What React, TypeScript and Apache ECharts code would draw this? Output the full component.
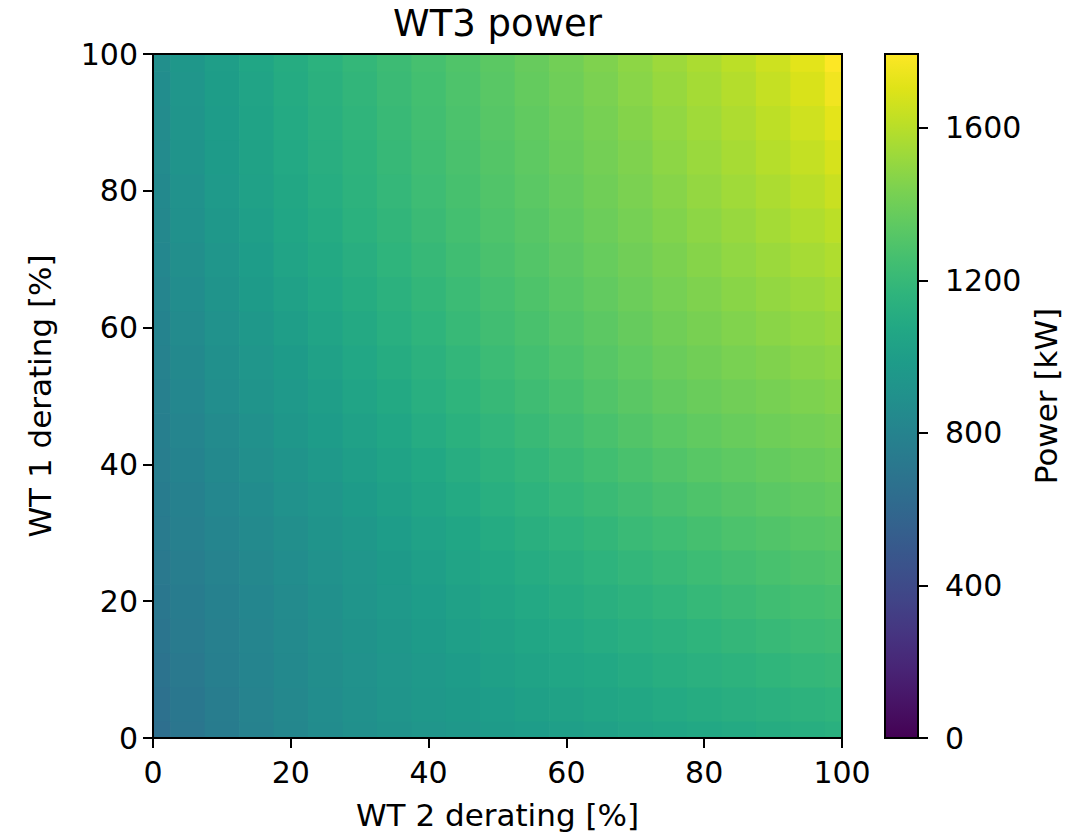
import React, { useEffect, useRef } from "react";
import * as echarts from "echarts";

// WT 2 derating [%] (x) and WT 1 derating [%] (y) sample positions
const wt2Derating = [0, 5, 10, 15, 20, 25, 30, 35, 40, 45, 50, 55, 60, 65, 70, 75, 80, 85, 90, 95, 100];
const wt1Derating = [0, 5, 10, 15, 20, 25, 30, 35, 40, 45, 50, 55, 60, 65, 70, 75, 80, 85, 90, 95, 100];

// WT3 power [kW]; one list per WT 2 derating value, each running over WT 1 derating 0 -> 100
const powerByWt2: number[][] = [
  [650, 665, 681, 696, 711, 725, 737, 748, 759, 769, 780, 791, 802, 814, 825, 835, 845, 854, 862, 871, 880],
  [700, 712, 725, 737, 749, 762, 775, 788, 801, 814, 827, 841, 856, 870, 884, 897, 908, 918, 927, 936, 945],
  [748, 758, 767, 776, 786, 798, 811, 826, 841, 857, 873, 889, 907, 924, 941, 955, 967, 977, 987, 996, 1005],
  [790, 798, 806, 814, 823, 834, 848, 864, 882, 900, 918, 936, 956, 975, 993, 1009, 1021, 1032, 1040, 1049, 1058],
  [830, 837, 844, 850, 859, 870, 885, 903, 922, 942, 962, 982, 1003, 1024, 1043, 1059, 1071, 1081, 1089, 1097, 1105],
  [865, 872, 878, 885, 893, 905, 921, 941, 962, 984, 1005, 1025, 1046, 1066, 1084, 1100, 1113, 1123, 1131, 1139, 1148],
  [893, 901, 909, 917, 927, 940, 958, 979, 1002, 1025, 1046, 1066, 1087, 1106, 1124, 1140, 1152, 1162, 1170, 1178, 1187],
  [917, 928, 937, 947, 959, 974, 993, 1016, 1040, 1064, 1086, 1106, 1126, 1145, 1163, 1178, 1190, 1200, 1208, 1216, 1224],
  [938, 951, 964, 977, 992, 1009, 1030, 1053, 1078, 1103, 1125, 1146, 1166, 1185, 1202, 1217, 1229, 1238, 1246, 1253, 1261],
  [957, 974, 990, 1006, 1024, 1043, 1065, 1090, 1115, 1140, 1163, 1184, 1204, 1222, 1239, 1254, 1266, 1275, 1283, 1290, 1298],
  [975, 995, 1014, 1034, 1054, 1076, 1100, 1126, 1152, 1177, 1200, 1221, 1241, 1259, 1275, 1290, 1302, 1312, 1320, 1328, 1336],
  [993, 1015, 1036, 1058, 1081, 1104, 1129, 1157, 1184, 1210, 1234, 1255, 1274, 1292, 1308, 1323, 1335, 1346, 1355, 1364, 1373],
  [1010, 1034, 1058, 1082, 1106, 1131, 1158, 1187, 1215, 1243, 1267, 1288, 1308, 1325, 1341, 1356, 1369, 1380, 1390, 1400, 1410],
  [1027, 1053, 1078, 1104, 1130, 1157, 1185, 1215, 1245, 1274, 1299, 1321, 1340, 1358, 1374, 1389, 1403, 1415, 1426, 1437, 1448],
  [1044, 1071, 1099, 1126, 1154, 1182, 1212, 1243, 1274, 1304, 1330, 1352, 1372, 1390, 1406, 1422, 1437, 1450, 1463, 1475, 1488],
  [1060, 1089, 1118, 1146, 1175, 1205, 1236, 1269, 1302, 1333, 1360, 1383, 1403, 1421, 1438, 1455, 1471, 1486, 1501, 1515, 1530],
  [1075, 1106, 1136, 1167, 1197, 1228, 1260, 1292, 1325, 1355, 1383, 1407, 1429, 1450, 1468, 1487, 1505, 1521, 1537, 1552, 1568],
  [1090, 1122, 1154, 1186, 1218, 1250, 1282, 1314, 1346, 1377, 1405, 1431, 1454, 1476, 1497, 1518, 1538, 1556, 1574, 1592, 1610],
  [1105, 1138, 1171, 1205, 1238, 1270, 1302, 1334, 1366, 1396, 1425, 1452, 1478, 1502, 1526, 1549, 1571, 1593, 1614, 1635, 1656],
  [1120, 1153, 1187, 1220, 1253, 1286, 1318, 1350, 1382, 1413, 1443, 1472, 1499, 1526, 1553, 1580, 1607, 1634, 1662, 1689, 1716],
  [1135, 1168, 1201, 1234, 1267, 1300, 1332, 1365, 1397, 1429, 1460, 1490, 1519, 1548, 1578, 1610, 1645, 1681, 1719, 1757, 1794],
];

const axisMin = 0;
const axisMax = 100;
const axisStep = 20;
const colorbarTicks = [0, 400, 800, 1200, 1600];
const powerMin = 0;
const powerMax = 1794;

const viridis = [
  "#440154", "#471365", "#482475", "#463480", "#414487", "#3b528b", "#355f8d",
  "#2f6c8e", "#2a788e", "#25848e", "#21918c", "#1e9c89", "#22a884", "#2fb47c",
  "#44bf70", "#5ec962", "#7ad151", "#9bd93c", "#bddf26", "#dfe318", "#fde725",
];

const FONT = "DejaVu Sans";

export default function App() {
  const ref = useRef<HTMLDivElement>(null);

  useEffect(() => {
    if (!ref.current) return;
    const chart = echarts.init(ref.current, null, { renderer: "svg" });

    const cells: number[][] = [];
    wt2Derating.forEach((x, i) => {
      wt1Derating.forEach((y, j) => {
        cells.push([x, y, powerByWt2[i][j]]);
      });
    });
    const halfX = (wt2Derating[1] - wt2Derating[0]) / 2;
    const halfY = (wt1Derating[1] - wt1Derating[0]) / 2;

    const plot = { left: 153, top: 54, width: 689, height: 684 };
    const cbar = { left: 885, top: 54, width: 33, height: 684 };

    const tickStyle = { color: "#000", width: 2 };
    const labelStyle = { color: "#000", fontSize: 30, fontFamily: FONT };

    const option: any = {
      animation: false,
      backgroundColor: "#ffffff",
      textStyle: { fontFamily: FONT },
      grid: [
        { ...plot, containLabel: false },
        { ...cbar, containLabel: false },
      ],
      xAxis: [
        {
          gridIndex: 0,
          type: "value",
          min: axisMin,
          max: axisMax,
          interval: axisStep,
          axisLine: { show: true, onZero: false, lineStyle: tickStyle },
          axisTick: { show: true, length: 10, lineStyle: tickStyle },
          axisLabel: { ...labelStyle, margin: 19 },
          splitLine: { show: false },
        },
        { gridIndex: 1, type: "value", min: 0, max: 1, show: false },
      ],
      yAxis: [
        {
          gridIndex: 0,
          type: "value",
          min: axisMin,
          max: axisMax,
          interval: axisStep,
          axisLine: { show: true, onZero: false, lineStyle: tickStyle },
          axisTick: { show: true, length: 10, lineStyle: tickStyle },
          axisLabel: { ...labelStyle, margin: 15 },
          splitLine: { show: false },
        },
        {
          gridIndex: 1,
          type: "value",
          position: "right",
          min: powerMin,
          max: powerMax,
          axisLine: { show: true, onZero: false, lineStyle: tickStyle },
          axisTick: { show: true, length: 10, lineStyle: tickStyle, customValues: colorbarTicks },
          axisLabel: {
            ...labelStyle,
            margin: 27,
            customValues: colorbarTicks,
            formatter: (v: number) => String(v),
          },
          splitLine: { show: false },
        },
      ],
      visualMap: {
        type: "continuous",
        show: false,
        min: powerMin,
        max: powerMax,
        dimension: 2,
        seriesIndex: 0,
        inRange: { color: viridis },
      },
      series: [
        {
          type: "custom",
          xAxisIndex: 0,
          yAxisIndex: 0,
          dimensions: ["wt2", "wt1", "power"],
          encode: { x: 0, y: 1 },
          data: cells,
          clip: true,
          renderItem: (params: any, api: any) => {
            const x = api.value(0);
            const y = api.value(1);
            const p0 = api.coord([x - halfX, y + halfY]);
            const p1 = api.coord([x + halfX, y - halfY]);
            const cs = params.coordSys;
            const shape = echarts.graphic.clipRectByRect(
              { x: p0[0], y: p0[1], width: p1[0] - p0[0] + 0.7, height: p1[1] - p0[1] + 0.7 },
              { x: cs.x, y: cs.y, width: cs.width, height: cs.height }
            );
            if (!shape) return null;
            return { type: "rect", shape, style: { fill: api.visual("color") } };
          },
        },
        {
          type: "custom",
          xAxisIndex: 1,
          yAxisIndex: 1,
          data: [[0, powerMin]],
          renderItem: (params: any, api: any) => {
            const pBottom = api.coord([0, powerMin]);
            const pTop = api.coord([1, powerMax]);
            return {
              type: "rect",
              shape: { x: pBottom[0], y: pTop[1], width: pTop[0] - pBottom[0], height: pBottom[1] - pTop[1] },
              style: {
                fill: new echarts.graphic.LinearGradient(
                  0, 1, 0, 0,
                  viridis.map((c, k) => ({ offset: k / (viridis.length - 1), color: c }))
                ),
              },
            };
          },
        },
      ],
      graphic: [
        {
          type: "rect",
          z: 100,
          silent: true,
          shape: { x: plot.left, y: plot.top, width: plot.width, height: plot.height },
          style: { fill: "none", stroke: "#000", lineWidth: 2 },
        },
        {
          type: "rect",
          z: 100,
          silent: true,
          shape: { x: cbar.left, y: cbar.top, width: cbar.width, height: cbar.height },
          style: { fill: "none", stroke: "#000", lineWidth: 2 },
        },
        {
          type: "text",
          z: 100,
          x: plot.left + plot.width / 2,
          y: 23,
          style: { text: "WT3 power", fontSize: 37, fontFamily: FONT, fill: "#000", align: "center", verticalAlign: "middle" },
        },
        {
          type: "text",
          z: 100,
          x: plot.left + plot.width / 2,
          y: 815,
          style: { text: "WT 2 derating [%]", fontSize: 31, fontFamily: FONT, fill: "#000", align: "center", verticalAlign: "middle" },
        },
        {
          type: "text",
          z: 100,
          x: 40,
          y: plot.top + plot.height / 2,
          rotation: Math.PI / 2,
          style: { text: "WT 1 derating [%]", fontSize: 31, fontFamily: FONT, fill: "#000", align: "center", verticalAlign: "middle" },
        },
        {
          type: "text",
          z: 100,
          x: 1046,
          y: cbar.top + cbar.height / 2,
          rotation: Math.PI / 2,
          style: { text: "Power [kW]", fontSize: 31, fontFamily: FONT, fill: "#000", align: "center", verticalAlign: "middle" },
        },
      ],
    };

    chart.setOption(option);
    return () => {
      chart.dispose();
    };
  }, []);

  return (
    <div
      ref={ref}
      style={{ position: "fixed", left: 0, top: 0, width: 1082, height: 836, background: "#fff" }}
    />
  );
}
